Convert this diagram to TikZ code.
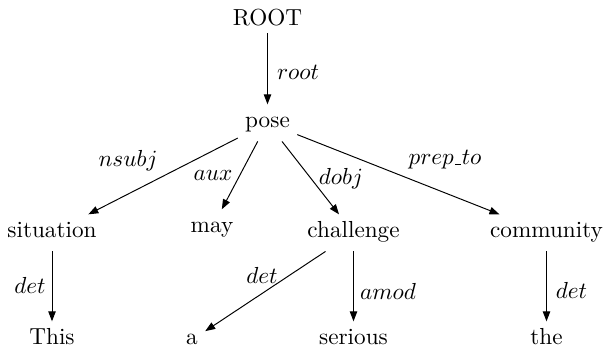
\documentclass[tikz,border=0pt]{standalone}
\usetikzlibrary{arrows.meta}
\begin{document}
\begin{tikzpicture}[x=0.431pt,y=-0.431pt,
  word/.style={anchor=base,inner sep=3pt,text height=7pt,text depth=2.6pt},
  dep/.style={-{Triangle[length=4.3pt,width=3.2pt]},line width=0.42pt},
  lab/.style={inner sep=0pt}]
\useasboundingbox (0,0) rectangle (603,353);
% words of the sentence
\node[word,text depth=0pt] (root) at (267.5,26) {ROOT};
\node[word] (pose) at (267.5,128) {pose};
\node[word] (situation) at (52,238) {situation};
\node[word] (may) at (212,233) {may};
\node[word] (challenge) at (353.5,238) {challenge};
\node[word] (community) at (546.5,238) {community};
\node[word] (this) at (52,345) {This};
\node[word] (a) at (192,345) {a};
\node[word] (serious) at (353.5,345) {serious};
\node[word] (the) at (546.5,345) {the};
% dependency arcs
\draw[dep] (root) -- (pose);
\draw[dep] (pose) -- (situation);
\draw[dep] (pose) -- (may);
\draw[dep] (pose) -- (challenge);
\draw[dep] (pose) -- (community);
\draw[dep] (situation) -- (this);
\draw[dep] (challenge) -- (a);
\draw[dep] (challenge) -- (serious);
\draw[dep] (community) -- (the);
% relation labels
\node[lab] (lroot) at (298,72) {$root$};
\node[lab] (lnsubj) at (128,161) {$nsubj$};
\node[lab] (laux) at (213,176) {$aux$};
\node[lab] (ldobj) at (341,179) {$dobj$};
\node[lab] (lprep) at (445,160) {$prep\kern.04em\rule{.28em}{.4pt}\kern.02em to$};
\node[lab] (ldet1) at (30,285) {$det$};
\node[lab] (ldet2) at (262,275) {$det$};
\node[lab] (lamod) at (388,291) {$amod$};
\node[lab] (ldet3) at (571.5,290) {$det$};
\end{tikzpicture}
\end{document}
